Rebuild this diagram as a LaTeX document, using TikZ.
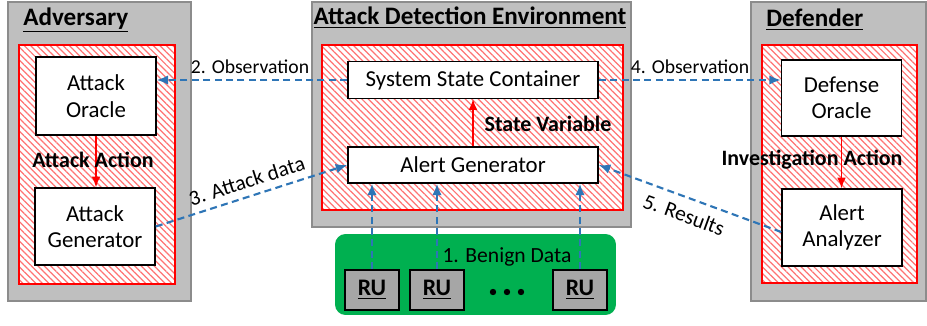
\documentclass[tikz,border=0pt]{standalone}
\usepackage{fontspec}
\setmainfont{Carlito}
\usetikzlibrary{arrows.meta,patterns.meta}
\definecolor{flowblue}{HTML}{2E75B6}
\definecolor{boxgray}{HTML}{BFBFBF}
\definecolor{edgegray}{HTML}{8C8C8C}
\definecolor{rugray}{HTML}{A6A6A6}
\definecolor{benigngreen}{HTML}{00B050}
\tikzset{
  party/.style={draw=edgegray, fill=boxgray, line width=0.9pt, inner sep=0},
  hatched/.style={draw=red, line width=0.9pt, inner sep=0, preaction={fill=white},
    pattern={Lines[angle=-45,distance=2.6pt,line width=0.7pt]}, pattern color=red!55},
  block/.style={draw, fill=white, line width=0.9pt, inner sep=0, align=center,
    font=\fontsize{13}{15}\selectfont},
  rubox/.style={draw, fill=rugray, line width=0.9pt, inner sep=0,
    minimum width=1.08cm, minimum height=0.8cm, font=\fontsize{13.5}{15}\selectfont\bfseries},
  title/.style={font=\fontsize{14.3}{16}\selectfont\bfseries, inner sep=0},
  action/.style={font=\fontsize{12.5}{15}\selectfont\bfseries, inner sep=0},
  msg/.style={font=\fontsize{11.2}{13}\selectfont, inner sep=1pt},
  flow/.style={draw=flowblue, line width=1.2pt, dash pattern=on 4pt off 2.5pt,
    -{Latex[length=6.5pt,width=5.5pt]}},
  act/.style={draw=red, line width=0.9pt, -{Latex[length=6pt,width=5pt]}}
}
\begin{document}
\begin{tikzpicture}[x=0.02cm,y=-0.02cm]
	\useasboundingbox (0,0) rectangle (927,325);
	% adversary
	\node[party, minimum width=3.66cm, minimum height=5.98cm] (adv) at (99.5,151.5) {};
	\node[hatched, minimum width=3.12cm, minimum height=4.78cm] (advin) at (97,164.5) {};
	\node[title, anchor=west] (advt) at (23,20) {\underline{Adversary}};
	\node[block, minimum width=2.4cm, minimum height=1.56cm] (oracle) at (96,96) {Attack\\Oracle};
	\node[block, minimum width=2.4cm, minimum height=1.54cm] (agen) at (95,226.5) {Attack\\Generator};
	\draw[act] (oracle.south) -- (oracle.south |- agen.north);
	\node[action] (aact) at (93,160) {Attack Action};
	% detection environment
	\node[party, minimum width=6.38cm, minimum height=4.5cm] (ade) at (471.5,114.5) {};
	\node[hatched, minimum width=6.02cm, minimum height=3.3cm] (adein) at (472.5,127.5) {};
	\node[title] (adet) at (470,18) {\underline{Attack Detection Environment}};
	\node[block, minimum width=5cm, minimum height=0.74cm] (ssc) at (473,80) {System State Container};
	\node[block, minimum width=5cm, minimum height=0.72cm] (alg) at (473,165) {Alert Generator};
	\draw[act] (alg.north) -- (ssc.south);
	\node[action] (svar) at (548,124) {State Variable};
	% benign data
	\node[fill=benigngreen, rounded corners=6pt, minimum width=5.62cm, minimum height=1.62cm] (green) at (475.5,274.5) {};
	\node[rubox] (ru1) at (372,290) {\underline{RU}};
	\node[rubox] (ru2) at (437,290) {\underline{RU}};
	\node[rubox] (ru3) at (580,290) {\underline{RU}};
	\foreach \x in {493,507,521}
		\fill (\x,292) circle[radius=3.2];
	\node[msg, font=\fontsize{12.3}{14}\selectfont] (benign) at (507,257) {1. Benign Data};
	\foreach \r in {ru1,ru2,ru3}
		\draw[flow] (\r.north) -- (\r.north |- alg.south);
	% defender
	\node[party, minimum width=3.5cm, minimum height=5.98cm] (def) at (838.5,151.5) {};
	\node[hatched, minimum width=3.1cm, minimum height=4.76cm] (defin) at (839.5,164) {};
	\node[title, anchor=west] (deft) at (766,20) {\underline{Defender}};
	\node[block, minimum width=2.4cm, minimum height=1.52cm] (dor) at (841.5,98) {Defense\\Oracle};
	\node[block, minimum width=2.4cm, minimum height=1.54cm] (aan) at (842,227.5) {Alert\\Analyzer};
	\draw[act] (dor.south) -- (dor.south |- aan.north);
	\node[action] (iact) at (812,160) {Investigation Action};
	% messages
	\draw[flow] (ssc.west) -- (ssc.west -| oracle.east);
	\node[msg] (obs2) at (250,67) {2. Observation};
	\draw[flow] (ssc.east) -- (ssc.east -| dor.west);
	\node[msg] (obs4) at (690,67) {4. Observation};
	\draw[flow] (agen.east) -- node[msg, font=\fontsize{12.2}{14}\selectfont, midway, above=3pt, sloped] (adata) {3. Attack data} (alg.west);
	\draw[flow] ([yshift=-0.09cm]aan.west) -- node[msg, font=\fontsize{12.2}{14}\selectfont, midway, below=4pt, sloped] (res) {5. Results} (alg.east);
\end{tikzpicture}
\end{document}
